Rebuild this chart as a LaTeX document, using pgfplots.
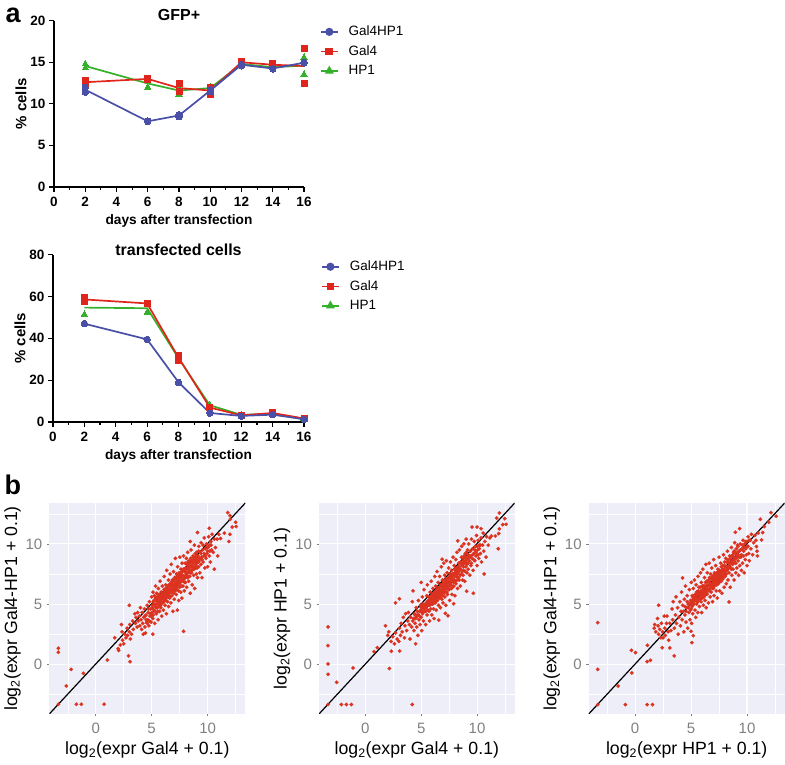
\documentclass[border=0pt]{standalone}
\usepackage{fontspec}
\setmainfont{Liberation Sans}
\usepackage{pgfplots}
\pgfplotsset{compat=1.18}
\definecolor{cb}{HTML}{4A4FA8}
\definecolor{cr}{HTML}{E0261C}
\definecolor{cg}{HTML}{35B02A}
\definecolor{bgc}{HTML}{EEEEF8}
\definecolor{dot}{HTML}{DC3320}
\definecolor{tk}{HTML}{808080}
\pgfplotsset{
 panelA/.style={scale only axis,axis x line=bottom,axis y line=left,axis line style={-,line width=1.2pt,black},
  xmin=0,xmax=16,ymin=0,clip=false,xtick={0,2,...,16},minor x tick num=1,
  tick align=outside,major tick length=5pt,minor tick length=3pt,
  every tick/.style={black,line width=1.2pt},
  /pgf/number format/assume math mode=true,
  tick label style={font=\fontsize{13.5}{14}\selectfont\bfseries},
  xticklabel style={yshift=-2pt},
  xlabel style={font=\fontsize{13.7}{14}\selectfont\bfseries,yshift=-1pt},
  ylabel style={font=\fontsize{15}{15}\selectfont\bfseries,yshift=-3pt},
  xlabel={days after transfection},ylabel={\% cells},
  title style={font=\fontsize{16}{16}\selectfont\bfseries,at={(0.5,1)},yshift=-10pt},
  legend style={draw=none,fill=none,font=\fontsize{13.5}{14}\selectfont,row sep=4.4pt,inner sep=0pt,anchor=north west,/tikz/column 1/.style={column sep=8pt}},
  legend cell align=left},
 ln/.style={line width=1.7pt,no markers},
 rep/.style={only marks,line width=0pt},
 panelB/.style={scale only axis,width=196pt,height=211pt,
  xmin=-4.15,xmax=13.37,ymin=-4.13,ymax=13.4,
  xtick={0,5,10},ytick={0,5,10},minor xtick={-2.5,2.5,7.5,12.5},minor ytick={-2.5,2.5,7.5,12.5},
  grid=both,major grid style={white,line width=1.1pt},minor grid style={white,line width=0.4pt},
  axis background/.style={fill=bgc},axis line style={draw=none},
  tick pos=lower,tick align=outside,major tick length=2.5pt,minor tick length=0pt,
  every tick/.style={tk,line width=0.6pt},
  /pgf/number format/assume math mode=true,
  tick label style={font=\fontsize{15}{16}\selectfont,text=tk},
  xticklabel style={yshift=-3pt},yticklabel style={xshift=-1pt},
  label style={font=\fontsize{17.7}{19}\selectfont,text=black},
  xlabel style={yshift=-1pt},ylabel style={yshift=-2pt}},
 pts/.style={only marks,color=dot,mark=*,mark size=1.8pt,mark options={solid,draw=dot,fill=dot,line width=0.2pt}},
 diag/.style={black,line width=1.2pt,no markers}
}
\begin{document}
\begin{tikzpicture}[x=1pt,y=1pt]
\path[use as bounding box] (0,0) rectangle (785,765);
\node[anchor=base west,font=\fontsize{27}{27}\selectfont\bfseries] at (2,742) {a};
\node[anchor=base west,font=\fontsize{27}{27}\selectfont\bfseries] at (1,270) {b};
% ---- GFP+
\begin{axis}[panelA,at={(54pt,578pt)},anchor=south west,width=250pt,height=166.3pt,ymax=20,ytick={0,5,...,20},
 title={GFP+},legend style={at={(1.063,0.98)}}]
\addplot[ln,cg,forget plot] coordinates {(2,14.55)(6,12.45)(8,11.6)(10,11.9)(12,14.8)(14,14.4)(16,14.6)};
\addplot[rep,cg,mark=triangle*,mark size=3.6pt,forget plot] coordinates {(2,14.8)(2,14.3)(6,12.0)(6,12.9)(8,11.15)(8,11.9)(10,12.05)(10,11.75)(12,14.85)(12,14.7)(14,14.45)(14,14.3)(16,15.6)(16,13.55)};
\addplot[ln,cr,forget plot] coordinates {(2,12.6)(6,13)(8,11.9)(10,11.6)(12,15)(14,14.7)(16,14.55)};
\addplot[rep,cr,mark=square*,mark size=3pt,forget plot] coordinates {(2,12.75)(2,12.45)(6,13)(6,12.95)(8,12.4)(8,11.45)(10,12)(10,11.15)(12,15.05)(12,14.9)(14,14.8)(14,14.6)(16,16.6)(16,12.5)};
\addplot[ln,cb,forget plot] coordinates {(2,11.7)(6,7.9)(8,8.6)(10,11.6)(12,14.7)(14,14.25)(16,14.95)};
\addplot[rep,cb,mark=*,mark size=3.2pt,forget plot] coordinates {(2,12)(2,11.4)(6,7.85)(6,7.95)(8,8.7)(8,8.45)(10,11.7)(10,11.45)(12,14.75)(12,14.55)(14,14.25)(14,14.2)(16,15)(16,14.9)};
\addlegendimage{cb,line width=1.7pt,mark=*,mark size=3.2pt}\addlegendentry{Gal4HP1}
\addlegendimage{cr,line width=1.7pt,mark=square*,mark size=3pt}\addlegendentry{Gal4}
\addlegendimage{cg,line width=1.7pt,mark=triangle*,mark size=3.6pt}\addlegendentry{HP1}
\end{axis}
% ---- transfected
\begin{axis}[panelA,at={(53pt,343pt)},anchor=south west,width=251pt,height=167.3pt,ymax=80,ytick={0,20,...,80},
 title={transfected cells},legend style={at={(1.067,0.975)}}]
\addplot[ln,cg,forget plot] coordinates {(2,54.7)(6,54.4)(8,30.5)(10,8)(12,3.4)(14,3.9)(16,1.4)};
\addplot[rep,cg,mark=triangle*,mark size=3.6pt,forget plot] coordinates {(2,51.5)(2,57.8)(6,52.4)(6,56.3)(8,31)(8,30)(10,7.8)(10,8.2)(12,3.4)(12,3.5)(14,3.9)(14,4.0)(16,1.4)(16,1.5)};
\addplot[ln,cr,forget plot] coordinates {(2,58.6)(6,56.7)(8,30.8)(10,6.9)(12,3.2)(14,4.3)(16,1.7)};
\addplot[rep,cr,mark=square*,mark size=3pt,forget plot] coordinates {(2,59.6)(2,57.8)(6,56.7)(6,56.5)(8,32)(8,29.6)(10,6.9)(10,7.1)(12,3.2)(12,3.3)(14,4.3)(14,4.4)(16,1.7)(16,1.6)};
\addplot[ln,cb,forget plot] coordinates {(2,47)(6,39.5)(8,19)(10,4.3)(12,2.9)(14,3.5)(16,1.3)};
\addplot[rep,cb,mark=*,mark size=3.2pt,forget plot] coordinates {(2,47)(2,47.1)(6,39.5)(6,39.4)(8,19)(8,18.8)(10,4.3)(10,4.2)(12,2.9)(12,2.8)(14,3.5)(14,3.6)(16,1.3)(16,1.2)};
\addlegendimage{cb,line width=1.7pt,mark=*,mark size=3.2pt}\addlegendentry{Gal4HP1}
\addlegendimage{cr,line width=1.7pt,mark=square*,mark size=3pt}\addlegendentry{Gal4}
\addlegendimage{cg,line width=1.7pt,mark=triangle*,mark size=3.6pt}\addlegendentry{HP1}
\end{axis}
% ---- b1
\begin{axis}[panelB,at={(49.3pt,51pt)},anchor=south west,
 xlabel={log\textsubscript{2}(expr Gal4 + 0.1)},ylabel={log\textsubscript{2}(expr Gal4-HP1 + 0.1)}]
\addplot[pts] coordinates {(-3.34,1.33)(-3.34,1)(-2.2,-0.42)(-2.63,-1.8)(-1.1,-0.75)(-3.34,-3.32)(-1.73,-3.32)(-1.28,-3.32)(0.75,-3.32)(1.04,0.36)(2.93,0.7)(3.07,0.22)(7.85,2.74)(3,4.9)(5.1,2.5)(11.8,12.6)(12,12.35)(12.03,12.05)(12.5,11.8)(12.55,11.45)(12.2,11.4)(11.9,10.2)(12,10.8)(11.5,10.9)(11.15,10.45)(10.9,9)(10.6,7.9)(9.1,10.95)(8.45,10.2)(10.15,11.3)(1.7,2.2)(2,1.3)(2.05,1.15)(2.2,1.6)(2.3,3.3)(2.35,2.7)(2.4,2)(2.5,1.7)(2.6,2.5)(2.7,2.2)(2.8,3)(2.85,2.4)(3,2.7)(3.05,3.3)(3.1,2.1)(3.2,2.5)(3.3,3.6)(3.35,2.9)(3.5,4.2)(3.55,3.4)(3.6,3.9)(3.7,3.1)(3.75,4.3)(3.8,3.6)(3.9,4)(3.95,3.2)(4,4.7)(4.05,3.7)(4.1,2.9)(4.15,4.3)(4.2,3.4)(4.25,2.5)(4.3,3.9)(4.35,4.6)(4.4,3.1)(4.45,2.6)(4.5,4.1)(4.55,3.5)(4.6,4.9)(4.65,3.7)(4.7,4.3)(4.75,3.2)(4.8,5.2)(4.85,4)(4.9,4.6)(4.95,3.5)(5,5.6)(5.02,4.3)(5.05,4.9)(5.1,3.8)(5.12,6)(5.15,5.2)(5.2,4.5)(5.25,5.7)(5.28,3.4)(5.3,4.9)(5.35,6.5)(5.4,5.3)(5.42,4.2)(5.45,5.9)(5.5,4.7)(5.55,5.5)(5.58,3.7)(5.6,6.3)(5.65,5)(5.7,4.4)(5.72,5.6)(5.75,6.9)(5.8,5.2)(5.82,4.7)(5.85,6)(5.9,4)(5.92,5.5)(5.95,6.5)(6,5.1)(6.02,5.8)(6.05,4.5)(6.1,6.2)(6.12,7.3)(6.15,5.4)(6.2,4.9)(6.22,6)(6.25,6.6)(6.3,5.6)(6.32,4.2)(6.35,7.8)(6.4,6.3)(6.42,5.2)(6.45,5.8)(6.5,7)(6.52,4.8)(6.55,6.1)(6.6,5.5)(6.62,6.6)(6.65,7.5)(6.7,6)(6.72,5.1)(6.75,8.3)(6.8,6.4)(6.82,5.7)(6.85,7)(6.9,4.4)(6.92,6.2)(6.95,7.7)(7,6.6)(7.02,5.4)(7.05,7.2)(7.1,6.1)(7.12,8.8)(7.15,6.8)(7.2,5.8)(7.22,7.5)(7.25,6.4)(7.3,4.5)(7.32,8.1)(7.35,7)(7.4,6.1)(7.42,5.3)(7.45,7.6)(7.5,6.7)(7.52,8.9)(7.55,7.2)(7.6,6)(7.62,7.9)(7.65,6.9)(7.7,5.5)(7.72,8.4)(7.75,7.4)(7.8,6.5)(7.82,7.9)(7.85,9)(7.9,7.1)(7.92,6.1)(7.95,7.7)(8,8.4)(8.02,6.8)(8.05,7.4)(8.1,8.8)(8.12,6.4)(8.15,7.9)(8.2,7.2)(8.22,9.3)(8.25,8.2)(8.3,6.9)(8.32,7.7)(8.35,8.6)(8.4,7.3)(8.45,5.9)(8.5,8.1)(8.52,9.5)(8.55,7.6)(8.6,8.6)(8.62,6.6)(8.65,7.9)(8.7,9)(8.75,7.4)(8.8,8.4)(8.82,9.9)(8.85,6.3)(8.9,8)(8.95,8.8)(9,7.5)(9.02,9.3)(9.05,8.4)(9.1,7.2)(9.15,9)(9.2,8.1)(9.22,9.8)(9.25,8.6)(9.3,7.6)(9.35,9.3)(9.4,8.3)(9.42,10.1)(9.45,8.9)(9.5,7.2)(9.55,9.5)(9.6,8.5)(9.65,9)(9.7,10.5)(9.75,8)(9.8,9.6)(9.85,8.8)(9.9,10)(9.95,9.2)(10,8.1)(10.05,9.7)(10.1,10.6)(10.15,9)(10.2,9.9)(10.25,8.5)(10.3,10.2)(10.35,9.5)(10.4,10.8)(10.5,9.3)(10.6,10.4)(10.7,9.7)(10.85,10.4)(11,10.8)(5.6,5.3)(5.8,5.7)(6,5.9)(6.1,5.7)(6.3,6.1)(6.4,5.9)(6.5,6.3)(6.6,6.2)(6.7,6.5)(6.8,6.7)(6.9,6.6)(7,6.9)(7.1,6.7)(7.2,7.1)(7.3,6.8)(7.4,7.2)(7.5,7.2)(7.6,7.4)(7.7,7.3)(5.2,5)(5.4,5)(5.5,5.2)(5.7,5.4)(5.9,5.6)(6.2,5.8)(8,7.7)(8.2,8)(8.4,8.1)(8.6,8.2)(8.8,8.7)(9,8.6)
(4.4,4)(4.5,3.7)(4.6,3.4)(4.7,4.6)(4.8,3.6)(4.9,4.2)(5,4)(5.1,4.7)(5.15,4.1)(5.2,5.3)(5.3,4.4)(5.35,5.5)(5.4,4.7)(5.5,5.6)(5.55,4.4)(5.6,4.8)(5.65,5.8)(5.7,5)(5.75,5.3)(5.8,4.9)(5.85,5.5)(5.9,5.1)(5.95,5.8)(6,5.4)(6.05,5.6)(6.1,5.2)(6.15,6)(6.2,5.5)(6.25,6.3)(6.3,5.3)(6.35,5.9)(6.4,5.6)(6.45,6.5)(6.5,5.7)(6.55,6.6)(6.6,5.9)(6.65,5.6)(6.7,6.2)(6.75,6.8)(6.8,6)(6.85,6.4)(6.9,7)(6.95,6.2)(7,5.9)(7.05,6.5)(7.1,7.1)(7.15,6.3)(7.2,6.6)(7.25,7.3)(7.3,6.2)(7.35,6.6)(7.4,6.8)(7.45,7.4)(7.5,6.4)(7.55,6.9)(7.6,7.6)(7.65,6.5)(7.7,7)(7.75,7.7)(7.8,6.9)(7.85,7.3)(7.9,7.9)(7.95,6.8)(8,7.2)(8.05,8)(8.1,7.5)(8.15,8.3)(8.2,7.6)(8.25,8.5)(8.3,7.3)(8.35,7.9)(8.4,8.4)(8.45,7.6)(8.5,8.8)(8.55,8.2)(8.6,7.8)(8.65,8.4)(8.7,8.1)(8.75,8.9)(8.8,7.9)(8.85,8.5)(8.9,9.2)(8.95,8.2)(9,9)(9.05,8)(9.1,8.8)(9.15,8.5)(9.2,9.4)(9.3,8.8)(9.4,9.2)(9.5,8.7)(9.6,9.9)(9.7,9.2)(9.8,9)(9.9,9.7)(10,9.4)(10.1,9.8)(10.2,9.4)(10.3,9.9)};
\addplot[diag] coordinates {(-4.15,-4.13)(13.37,13.4)};
\end{axis}
% ---- b2
\begin{axis}[panelB,at={(319pt,51pt)},anchor=south west,width=195.7pt,
 xlabel={log\textsubscript{2}(expr Gal4 + 0.1)},ylabel={log\textsubscript{2}(expr HP1 + 0.1)}]
\addplot[pts] coordinates {(-3.34,3.1)(-3.34,1.55)(-3.34,0.03)(-3.34,-0.83)(-3.34,-3.34)(-2.57,-1.5)(-2.15,-3.34)(-1.7,-3.34)(-1.25,-3.34)(-1.1,-0.3)(4.2,-3.34)(2.15,-0.35)(0.78,1.05)(1.07,1.38)(2.33,1.08)(3.07,1.1)(1.8,3.2)(3.05,5.44)(2.7,5.1)(4.5,1.7)(7.9,5.03)(9.67,5.9)(9.07,6.07)(10.63,7.5)(11.9,9.6)(12,12.57)(11.76,12.15)(12.48,12.1)(12.6,11.63)(12.3,11.6)(12,11.25)(11.94,10.86)(11.64,10.66)(11.28,10.66)(9.55,11.4)(10,11.4)(10.36,11.27)(8.27,10.25)(6.87,8.73)(5,6.8)(4.27,6.1)(7.16,4.23)(7.4,4.03)(6.57,3.67)(2,2.4)(2.1,2.7)(2.3,1.9)(2.45,2.3)(2.6,1.7)(2.7,2.6)(2.85,2.1)(3,1.9)(3.05,3)(3.15,2.4)(3.2,3.4)(3.3,2.7)(3.4,3.9)(3.5,2.2)(3.55,3.2)(3.6,4.2)(3.7,2.8)(3.8,3.6)(3.85,4.3)(3.95,3.3)(4,2.1)(4.05,3.9)(4.15,3.1)(4.2,5.2)(4.25,3.6)(4.35,2.8)(4.4,4.2)(4.45,3.4)(4.5,3.8)(4.55,4.7)(4.6,3.1)(4.65,4.1)(4.7,2.4)(4.75,5.3)(4.8,3.7)(4.85,4.4)(4.9,3.3)(4.95,4.9)(5,3.9)(5.05,2.8)(5.1,5.6)(5.12,4.2)(5.15,4.7)(5.2,3.6)(5.25,6.2)(5.3,4.4)(5.35,5)(5.4,3.3)(5.45,4.7)(5.5,5.7)(5.52,4.1)(5.55,6.6)(5.6,4.9)(5.65,5.3)(5.7,4.4)(5.75,3.6)(5.8,6)(5.82,5)(5.85,4.6)(5.9,6.9)(5.92,5.4)(5.95,4.1)(6,5.7)(6.02,5)(6.05,6.3)(6.1,4.6)(6.12,5.3)(6.15,3.8)(6.2,5.9)(6.22,7.3)(6.25,5.1)(6.3,6.5)(6.32,5.5)(6.35,4.5)(6.4,6)(6.42,7.7)(6.45,5.3)(6.5,5.8)(6.52,6.8)(6.55,4.9)(6.6,6.2)(6.62,5.5)(6.65,7.3)(6.7,5.9)(6.72,4.7)(6.75,6.5)(6.8,8.1)(6.82,6)(6.85,5.4)(6.9,7)(6.92,6.3)(6.95,5.1)(7,6.7)(7.02,8.4)(7.05,6)(7.1,7.4)(7.12,5.6)(7.15,6.5)(7.2,4.9)(7.22,7.1)(7.25,8.6)(7.3,6.3)(7.32,7.6)(7.35,5.8)(7.4,6.8)(7.45,8)(7.5,6.2)(7.52,7.2)(7.55,5.3)(7.6,6.8)(7.62,8.5)(7.65,7.4)(7.7,6.3)(7.72,7.8)(7.75,5.8)(7.8,7)(7.85,8.9)(7.9,7.5)(7.92,6.5)(7.95,8.2)(8,7)(8.02,5.7)(8.05,7.6)(8.1,8.7)(8.12,6.7)(8.15,7.3)(8.2,9.3)(8.22,8)(8.25,6.3)(8.3,7.6)(8.35,8.4)(8.4,7)(8.42,9.5)(8.45,7.9)(8.5,6.5)(8.55,8.5)(8.6,7.5)(8.62,9.8)(8.65,8.2)(8.7,7)(8.75,8.8)(8.8,7.8)(8.82,10)(8.85,8.4)(8.9,6.9)(8.95,9.2)(9,8.1)(9.02,10.4)(9.05,8.7)(9.1,7.6)(9.15,9.5)(9.2,8.4)(9.25,10)(9.3,8.9)(9.35,7.4)(9.4,9.4)(9.45,8.2)(9.5,10.4)(9.55,8.8)(9.6,9.6)(9.65,7.8)(9.7,9.2)(9.75,10.2)(9.8,8.6)(9.85,9.8)(9.9,9)(9.95,10.7)(10,8.2)(10.05,9.5)(10.1,10.3)(10.15,8.8)(10.2,9.9)(10.3,9.2)(10.35,10.5)(10.4,8.5)(10.5,9.9)(10.55,10.9)(10.6,9.4)(10.7,10.2)(10.8,8.9)(10.85,10.6)(11,9.9)(11.15,10.5)(5.4,5)(5.6,5.2)(5.8,5.4)(5.9,5.6)(6.05,5.5)(6.1,5.9)(6.25,5.7)(6.35,6.1)(6.45,6)(6.55,6.3)(6.65,6.1)(6.75,6.6)(6.85,6.2)(6.95,6.7)(7.05,6.5)(7.15,6.9)(7.25,6.7)(7.35,7.1)(7.45,6.9)(7.55,7.3)(7.65,7.1)(7.8,7.5)(8,7.9)(8.2,7.8)(8.4,8.1)(8.6,8.4)(8.8,8.6)(9,8.9)(9.2,9.1)(5,4.5)(5.2,4.8)(5.3,4.7)(5.5,5.1)(5.7,5.6)
(4.3,3.8)(4.45,4.1)(4.55,3.9)(4.65,4.4)(4.75,4.1)(4.85,4)(4.95,4.4)(5,4.7)(5.1,4.3)(5.15,5)(5.25,4.6)(5.35,4.8)(5.4,4.4)(5.5,4.8)(5.55,5.2)(5.6,4.5)(5.65,5)(5.7,5.3)(5.75,4.9)(5.8,5.1)(5.85,5.6)(5.9,5)(5.95,5.4)(6,5.2)(6.05,5.8)(6.1,5.4)(6.15,5.6)(6.2,5.2)(6.25,6)(6.3,5.6)(6.35,5.3)(6.4,5.7)(6.45,6.3)(6.5,5.5)(6.55,6)(6.6,5.7)(6.65,6.4)(6.7,5.6)(6.75,6.1)(6.8,5.9)(6.85,6.6)(6.9,5.7)(6.95,6.2)(7,6.4)(7.05,5.9)(7.1,6.7)(7.15,6.2)(7.2,6.5)(7.25,7)(7.3,6)(7.35,6.5)(7.4,6.3)(7.45,7.2)(7.5,6.5)(7.55,6.7)(7.6,7.5)(7.65,6.6)(7.7,6.9)(7.75,7.3)(7.8,6.4)(7.85,7.1)(7.9,6.8)(7.95,7.5)(8,7.3)(8.05,6.9)(8.1,7.7)(8.15,8)(8.2,7)(8.25,7.5)(8.3,8.1)(8.35,7.2)(8.4,7.8)(8.45,8.4)(8.5,7.4)(8.55,7.9)(8.6,8.9)(8.65,7.7)(8.7,8.3)(8.75,7.4)(8.8,8.1)(8.85,9)(8.9,8.5)(8.95,7.7)(9,8.5)(9.05,9.3)(9.1,8.3)(9.15,8.8)(9.2,7.9)(9.3,8.6)(9.4,9)(9.5,8.4)(9.6,9.1)(9.7,8.7)(9.8,9.5)(9.9,9.3)(10,9.8)(10.1,9.1)(10.2,9.6)(10.3,9.9)};
\addplot[diag] coordinates {(-4.15,-4.13)(13.37,13.4)};
\end{axis}
% ---- b3
\begin{axis}[panelB,at={(588.7pt,51pt)},anchor=south west,
 xlabel={log\textsubscript{2}(expr HP1 + 0.1)},ylabel={log\textsubscript{2}(expr Gal4-HP1 + 0.1)}]
\addplot[pts] coordinates {(-3.34,3.46)(-3.34,-0.42)(-3.34,-3.35)(-1.52,-1.8)(-0.3,-0.72)(-0.33,1.16)(0.03,0.97)(-0.87,-3.35)(1.07,-3.35)(1.55,-3.35)(1.07,0.22)(1.37,0.33)(1.1,1.58)(2.42,1.38)(3.1,1.36)(3.5,0.7)(5.07,1.8)(5.2,2.38)(5,2.74)(8.4,5.18)(2.1,4.9)(4.24,7.17)(8.96,10.97)(9.34,11.27)(12.15,12.6)(12.6,12.3)(11.94,11.8)(11.2,12.05)(11.55,11.44)(11.4,10.94)(11.3,10.33)(10.9,9.4)(10.93,9)(10.84,9.78)(1.7,3)(1.75,3.3)(1.85,2.7)(2,3.8)(2.05,3.2)(2.1,2.5)(2.2,2.9)(2.3,2.2)(2.35,3.4)(2.45,2.7)(2.5,2.2)(2.6,4)(2.65,3)(2.7,2.4)(2.8,3.4)(2.85,4)(2.95,2.7)(3,2)(3.1,3.4)(3.2,2.8)(3.3,4.6)(3.35,3.7)(3.4,5.2)(3.5,3)(3.6,4.1)(3.65,5.6)(3.7,3.4)(3.8,4.7)(3.85,2.5)(3.9,3.9)(4,5.2)(4.05,3.2)(4.1,4.4)(4.15,6)(4.2,3.7)(4.25,4.9)(4.35,2.7)(4.4,5.4)(4.45,4.1)(4.5,6.5)(4.55,3.5)(4.6,4.7)(4.65,5.7)(4.7,3)(4.75,5)(4.8,4.3)(4.85,6.2)(4.9,3.7)(4.95,5.3)(5,4.6)(5.02,6.8)(5.05,3.4)(5.1,5.7)(5.12,4.9)(5.15,4.2)(5.2,6.3)(5.25,5.2)(5.3,7)(5.35,4.5)(5.4,5.6)(5.42,3.9)(5.45,6.6)(5.5,5)(5.55,6)(5.6,4.3)(5.62,7.3)(5.65,5.4)(5.7,6.4)(5.75,4.8)(5.8,5.8)(5.85,7.6)(5.9,5.2)(5.92,6.8)(5.95,4.3)(6,6.1)(6.02,5.5)(6.05,7.9)(6.1,4.9)(6.12,6.5)(6.15,5.9)(6.2,7.2)(6.25,5.3)(6.3,6.4)(6.32,8.3)(6.35,4.7)(6.4,6.9)(6.42,5.8)(6.45,7.6)(6.5,6.2)(6.55,5.1)(6.6,7)(6.62,8.4)(6.65,6.5)(6.7,5.6)(6.75,7.5)(6.8,6)(6.85,8)(6.9,6.7)(6.92,5.2)(6.95,7.2)(7,6.3)(7.02,8.7)(7.05,5.7)(7.1,7.6)(7.15,6.8)(7.2,8.2)(7.25,6.1)(7.3,7.2)(7.35,5.5)(7.4,7.9)(7.45,6.7)(7.5,8.9)(7.55,6.1)(7.6,7.5)(7.65,8.4)(7.7,6.9)(7.75,5.9)(7.8,7.9)(7.85,7.1)(7.9,9.1)(7.95,6.4)(8,8.2)(8.05,7.3)(8.1,8.8)(8.15,6.7)(8.2,7.8)(8.25,9.4)(8.3,7)(8.35,8.4)(8.4,7.6)(8.45,9)(8.5,6.4)(8.55,8)(8.6,9.7)(8.65,7.4)(8.7,8.6)(8.75,7.9)(8.8,9.3)(8.85,7)(8.9,10.1)(8.95,8.4)(9,7.6)(9.05,9.1)(9.1,8)(9.15,9.9)(9.2,8.6)(9.25,7.4)(9.3,9.4)(9.35,8.2)(9.4,10)(9.45,8.9)(9.5,7.8)(9.55,9.6)(9.6,8.4)(9.65,10.3)(9.7,9)(9.75,7.6)(9.8,9.7)(9.85,8.7)(9.9,10.2)(9.95,9.1)(10,8.2)(10.05,9.8)(10.1,10.6)(10.15,9.2)(10.2,8.6)(10.3,10.3)(10.35,9.6)(10.4,10.8)(10.5,9.1)(10.6,10.1)(10.7,10.7)(10.8,10.3)(11,10.9)(5.6,5.2)(5.8,5.4)(6,5.7)(6.1,6.1)(6.2,5.7)(6.3,6)(6.4,6.2)(6.5,6.5)(6.6,6.1)(6.7,6.8)(6.8,6.6)(6.9,6.3)(7,7)(7.1,6.8)(7.2,7.2)(7.3,6.6)(7.4,7.4)(7.5,7)(7.6,7.1)(7.7,7.6)(7.8,7.3)(7.9,7.7)(8,7.5)(8.2,8.1)(8.4,8.2)(8.6,8.5)(8.8,8.9)(9,8.8)(9.2,9.1)(5,5.1)(5.2,5.4)(5.4,5.3)(5.5,5.7)(5.7,5.9)
(4.3,4.4)(4.45,4.8)(4.55,4.4)(4.65,5.2)(4.75,4.7)(4.85,5)(4.95,4.5)(5.05,5.3)(5.1,4.8)(5.15,5.6)(5.25,5)(5.3,5.5)(5.35,5.8)(5.45,5.4)(5.5,6)(5.55,5.2)(5.6,5.8)(5.65,6.1)(5.7,5.5)(5.75,6)(5.8,6.4)(5.85,5.6)(5.9,6.1)(5.95,5.8)(6,6.5)(6.05,5.9)(6.1,6.3)(6.15,5.6)(6.2,6.5)(6.25,6)(6.3,6.8)(6.35,6.2)(6.4,5.9)(6.45,6.6)(6.5,6.9)(6.55,6.2)(6.6,6.6)(6.65,7.2)(6.7,6.3)(6.75,6.7)(6.8,7.1)(6.85,6.5)(6.9,7.3)(6.95,6.8)(7,6.6)(7.05,7.4)(7.1,6.5)(7.15,7.1)(7.2,7.5)(7.25,6.9)(7.3,7.6)(7.35,7.1)(7.4,6.8)(7.45,7.7)(7.5,7.3)(7.55,7.8)(7.6,6.9)(7.65,7.4)(7.7,8.1)(7.75,7.2)(7.8,7.7)(7.85,8.2)(7.9,7.4)(7.95,7.9)(8,8.5)(8.05,7.7)(8.1,8.1)(8.15,7.5)(8.2,8.5)(8.25,7.9)(8.3,8.7)(8.35,8)(8.4,8.5)(8.45,8.1)(8.5,8.8)(8.55,8.4)(8.6,7.9)(8.65,9)(8.7,8.3)(8.75,9.1)(8.8,8.5)(8.85,9.4)(8.9,8.7)(8.95,9.3)(9,8.4)(9.05,9.6)(9.1,8.9)(9.15,9.3)(9.2,9.8)(9.3,8.9)(9.4,9.5)(9.5,9.1)(9.6,9.9)(9.7,9.4)(9.8,10)(9.9,9.6)(10,10.2)(10.1,9.8)(10.2,10.3)};
\addplot[diag] coordinates {(-4.15,-4.13)(13.37,13.4)};
\end{axis}
\end{tikzpicture}
\end{document}
